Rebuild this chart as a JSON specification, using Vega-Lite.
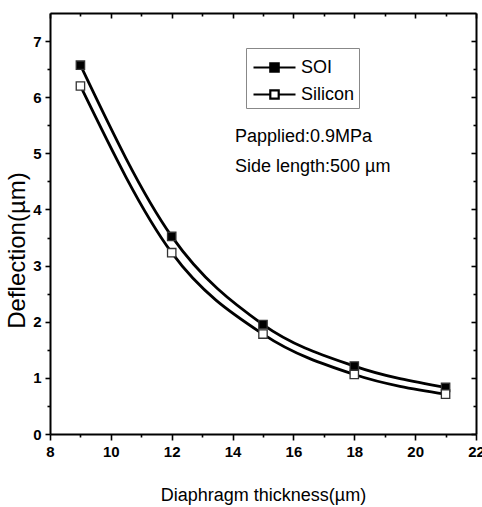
{
  "$schema": "https://vega.github.io/schema/vega-lite/v6.json",
  "width": 426,
  "height": 421,
  "autosize": {"type": "none"},
  "padding": {"left": 50, "top": 13, "right": 6, "bottom": 73},
  "background": "white",
  "config": {
    "view": {"stroke": null},
    "axis": {
      "grid": false,
      "domainColor": "black",
      "domainWidth": 2,
      "tickColor": "black",
      "tickWidth": 1.6,
      "labelFont": "Liberation Sans",
      "labelFontWeight": "bold",
      "labelFontSize": 15,
      "labelColor": "black",
      "titleFont": "Liberation Sans",
      "titleFontWeight": "normal",
      "titleColor": "black"
    }
  },
  "data": {
    "values": [
      {"t": 9, "d": 6.57, "s": "SOI"},
      {"t": 12, "d": 3.52, "s": "SOI"},
      {"t": 15, "d": 1.95, "s": "SOI"},
      {"t": 18, "d": 1.21, "s": "SOI"},
      {"t": 21, "d": 0.83, "s": "SOI"},
      {"t": 9, "d": 6.2, "s": "Silicon"},
      {"t": 12, "d": 3.23, "s": "Silicon"},
      {"t": 15, "d": 1.78, "s": "Silicon"},
      {"t": 18, "d": 1.06, "s": "Silicon"},
      {"t": 21, "d": 0.71, "s": "Silicon"}
    ]
  },
  "layer": [
    {
      "mark": {"type": "line", "color": "black", "strokeWidth": 2.8, "interpolate": "monotone"},
      "encoding": {
        "x": {
          "field": "t", "type": "quantitative",
          "scale": {"domain": [8, 22], "nice": false, "zero": false},
          "axis": {
            "orient": "bottom",
            "values": [8, 9, 10, 11, 12, 13, 14, 15, 16, 17, 18, 19, 20, 21, 22],
            "labelExpr": "datum.value % 2 === 0 ? format(datum.value, 'd') : ''",
            "tickSize": {"condition": {"test": "datum.value % 2 === 0", "value": 6}, "value": 3},
            "labelPadding": 4,
            "labelFlush": false,
            "labelOverlap": false,
            "title": "Diaphragm thickness(µm)",
            "titleFontSize": 18,
            "titleBaseline": "middle",
            "titleY": 61
          }
        },
        "y": {
          "field": "d", "type": "quantitative",
          "scale": {"domain": [0, 7.5], "nice": false},
          "axis": {
            "orient": "left",
            "values": [0, 0.5, 1, 1.5, 2, 2.5, 3, 3.5, 4, 4.5, 5, 5.5, 6, 6.5, 7],
            "labelExpr": "datum.value % 1 === 0 ? format(datum.value, 'd') : ''",
            "tickSize": {"condition": {"test": "datum.value % 1 === 0", "value": 5}, "value": 3},
            "labelPadding": 4,
            "labelFlush": false,
            "labelOverlap": false,
            "title": "Deflection(µm)",
            "titleFontSize": 24,
            "titleBaseline": "middle",
            "titleAlign": "center",
            "titleX": -33,
            "titleY": 237
          }
        },
        "detail": {"field": "s"}
      }
    },
    {
      "mark": {"type": "point", "shape": "square", "size": 70, "stroke": "#333", "strokeWidth": 1.3, "opacity": 1, "filled": false},
      "encoding": {
        "x": {
          "field": "t", "type": "quantitative",
          "scale": {"domain": [8, 22], "nice": false, "zero": false},
          "axis": {
            "orient": "top",
            "values": [8, 9, 10, 11, 12, 13, 14, 15, 16, 17, 18, 19, 20, 21, 22],
            "labels": false,
            "tickSize": {"condition": {"test": "datum.value % 2 === 0", "value": -5}, "value": -3},
            "title": null
          }
        },
        "y": {
          "field": "d", "type": "quantitative",
          "scale": {"domain": [0, 7.5], "nice": false},
          "axis": {
            "orient": "right",
            "values": [0, 0.5, 1, 1.5, 2, 2.5, 3, 3.5, 4, 4.5, 5, 5.5, 6, 6.5, 7],
            "labels": false,
            "tickSize": {"condition": {"test": "datum.value % 1 === 0", "value": -5}, "value": -3},
            "title": null
          }
        },
        "fill": {
          "field": "s", "type": "nominal",
          "scale": {"domain": ["SOI", "Silicon"], "range": ["black", "white"]},
          "legend": {
            "title": null,
            "orient": "none",
            "legendX": 196,
            "legendY": 35,
            "symbolType": "M-1.5,0H-0.3M0.3,0H1.5M-0.3,-0.3H0.3V0.3H-0.3Z",
            "symbolSize": 784,
            "symbolStrokeColor": "black",
            "symbolStrokeWidth": 2.2,
            "symbolOffset": 9,
            "labelOffset": 11,
            "labelFont": "Liberation Sans",
            "labelFontSize": 18,
            "labelColor": "black",
            "strokeColor": "#888",
            "padding": 4,
            "rowPadding": 2
          }
        }
      }
    },
    {
      "data": {"values": [{"note": "annotation"}]},
      "mark": {
        "type": "text",
        "text": ["Papplied:0.9MPa", "Side length:500 µm"],
        "align": "left",
        "baseline": "alphabetic",
        "font": "Liberation Sans",
        "fontSize": 18,
        "lineHeight": 30,
        "color": "black"
      },
      "encoding": {
        "x": {"datum": 14.08, "type": "quantitative", "axis": null},
        "y": {"datum": 5.21, "type": "quantitative", "axis": null}
      }
    }
  ],
  "resolve": {"axis": {"x": "independent", "y": "independent"}}
}
